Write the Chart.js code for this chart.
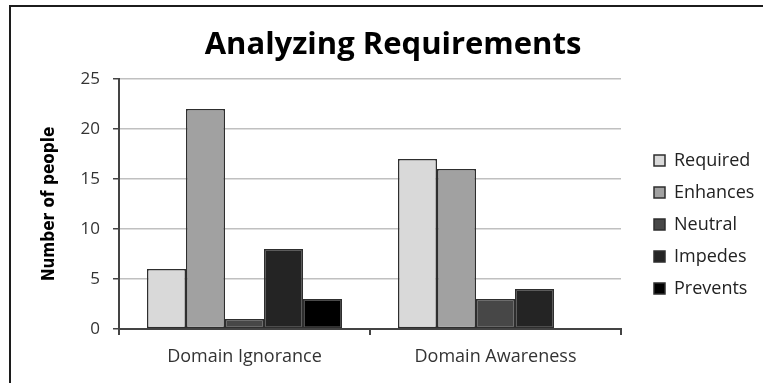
<!DOCTYPE html>
<html>
<head>
<meta charset="utf-8">
<script src="https://cdn.jsdelivr.net/npm/chart.js@4/dist/chart.umd.min.js"></script>
<style>
  html, body { margin: 0; padding: 0; background: #fff; }
  #frame { position: absolute; left: 9px; top: 5px; width: 760px; height: 380px;
           border-top: 2px solid #1c1c1c; border-left: 2px solid #1c1c1c; }
  #wrap { position: absolute; left: 0; top: 0; width: 763px; height: 383px; }
</style>
</head>
<body>
<div id="frame"></div>
<div id="wrap"><canvas id="chart"></canvas></div>
<script>
// Survey counts per answer, for each domain-knowledge group
const categories = ['Domain Ignorance', 'Domain Awareness'];
const seriesNames = ['Required', 'Enhances', 'Neutral', 'Impedes', 'Prevents'];
const required = [6, 17];
const enhances = [22, 16];
const neutral  = [1, 3];
const impedes  = [8, 4];
const prevents = [3, 0];
const yTicks = [0, 5, 10, 15, 20, 25];

const fills = ['#d9d9d9', '#a1a1a1', '#474747', '#242424', '#000000'];
const values = [required, enhances, neutral, impedes, prevents];

const PAD_L = 25, PAD_R = 2;
const textFont = '"Open Sans", "DejaVu Sans", sans-serif';

new Chart(document.getElementById('chart'), {
  type: 'bar',
  data: {
    labels: categories,
    datasets: seriesNames.map((name, i) => ({
      label: name,
      data: values[i],
      backgroundColor: fills[i],
      borderColor: '#2e2e2e',
      borderWidth: 1.5,
      borderSkipped: false,
      categoryPercentage: 0.777,
      barPercentage: 1.0
    }))
  },
  options: {
    responsive: true,
    maintainAspectRatio: false,
    animation: false,
    layout: { padding: { left: PAD_L, right: PAD_R, top: 0, bottom: 0 } },
    plugins: {
      title: {
        display: true,
        text: 'Analyzing Requirements',
        color: '#000',
        font: { family: textFont, size: 31, weight: 'bold' },
        padding: { top: 26.4, bottom: 15.4 }
      },
      legend: {
        position: 'right',
        maxWidth: 121,
        title: { display: true, text: '', font: { size: 10 }, padding: { top: 54, bottom: 0 } },
        labels: {
          boxWidth: 11,
          boxHeight: 11,
          padding: 14,
          color: '#222',
          font: { family: textFont, size: 18 }
        }
      },
      tooltip: { enabled: false }
    },
    scales: {
      x: {
        offset: true,
        grid: {
          offset: true,
          drawOnChartArea: true,
          drawTicks: true,
          tickLength: 6,
          lineWidth: 2,
          color: (ctx) => (ctx.index === 2 ? '#9a9a9a' : 'rgba(0,0,0,0)'),
          tickColor: (ctx) => (ctx.index === 2 ? '#9a9a9a' : '#444')
        },
        border: { color: '#444', width: 2 },
        ticks: {
          color: '#333',
          padding: 11,
          font: { family: textFont, size: 18 }
        },
        afterFit: (s) => { s.height = 54; }
      },
      y: {
        min: 0,
        max: 25,
        afterBuildTicks: (s) => { s.ticks = yTicks.map(v => ({ value: v })); },
        grid: {
          color: '#c0c0c0',
          lineWidth: 1.5,
          drawTicks: true,
          tickLength: 6,
          tickColor: '#444'
        },
        border: { color: '#444', width: 2 },
        ticks: {
          color: '#333',
          padding: 13,
          font: { family: textFont, size: 17 }
        },
        title: {
          display: true,
          text: 'Number of people',
          color: '#000',
          font: { family: '"Liberation Sans Narrow", "DejaVu Sans Condensed", sans-serif', size: 17, weight: 'bold' },
          padding: { top: 14, bottom: 0 }
        },
        afterFit: (s) => { s.width = 119 - PAD_L; }
      },
      y2: {
        position: 'right',
        display: true,
        grid: { display: false },
        border: { display: false },
        ticks: { display: false },
        afterFit: (s) => { s.width = 19; }
      }
    }
  }
});
</script>
</body>
</html>
